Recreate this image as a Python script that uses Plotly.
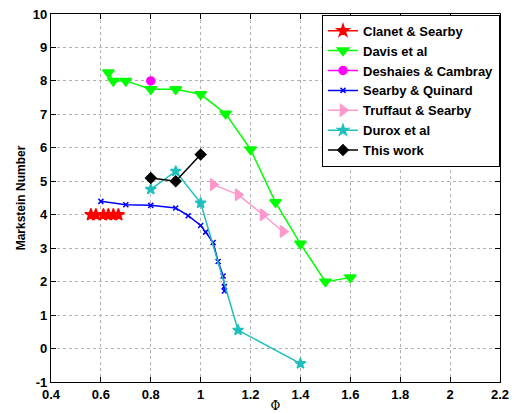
import plotly.graph_objects as go

clanet_x = [0.56, 0.58, 0.61, 0.63, 0.65, 0.67]
clanet_y = [4.0, 4.0, 4.0, 4.0, 4.0, 4.0]

davis_x = [0.63, 0.65, 0.70, 0.80, 0.90, 1.00, 1.10, 1.20, 1.30, 1.40, 1.50, 1.60]
davis_y = [8.25, 8.0, 8.0, 7.75, 7.75, 7.6, 7.02, 5.95, 4.37, 3.13, 2.0, 2.12]

deshaies_x = [0.80]
deshaies_y = [8.0]

searby_x = [0.60, 0.70, 0.80, 0.90, 0.95, 1.00, 1.02, 1.05, 1.07, 1.09, 1.095, 1.095]
searby_y = [4.4, 4.3, 4.28, 4.2, 3.97, 3.68, 3.48, 3.17, 2.6, 2.17, 1.85, 1.72]

truffaut_x = [1.05, 1.15, 1.25, 1.33]
truffaut_y = [4.9, 4.6, 4.0, 3.5]

durox_x = [0.80, 0.90, 1.00, 1.15, 1.40]
durox_y = [4.76, 5.3, 4.35, 0.55, -0.45]

thiswork_x = [0.80, 0.90, 1.00]
thiswork_y = [5.1, 5.0, 5.8]

x_ticks = [0.4, 0.6, 0.8, 1, 1.2, 1.4, 1.6, 1.8, 2, 2.2]
x_tick_labels = ["0.4", "0.6", "0.8", "1", "1.2", "1.4", "1.6", "1.8", "2", "2.2"]
y_ticks = list(range(-1, 11))
y_tick_labels = [str(v) for v in y_ticks]

series = [
    ("Clanet & Searby", clanet_x, clanet_y, "#ff0000", "star", 9),
    ("Davis et al", davis_x, davis_y, "#00ff00", "triangle-down", 10),
    ("Deshaies & Cambray", deshaies_x, deshaies_y, "#ff00ff", "circle", 8),
    ("Searby & Quinard", searby_x, searby_y, "#0000ff", "x-thin", 5),
    ("Truffaut & Searby", truffaut_x, truffaut_y, "#ff99cc", "triangle-right", 10),
    ("Durox et al", durox_x, durox_y, "#1fbfbf", "star", 8),
    ("This work", thiswork_x, thiswork_y, "#000000", "diamond", 8),
]

fig = go.Figure()
for name, xs, ys, col, sym, sz in series:
    fig.add_trace(go.Scatter(
        x=xs, y=ys, name="<b>" + name + "</b>", mode="lines+markers",
        line=dict(color=col, width=1.5),
        marker=dict(color=col, symbol=sym, size=sz,
                    line=dict(color=col, width=1.5)),
    ))

axis_common = dict(
    showline=True, linecolor="black", linewidth=1.2, mirror="ticks",
    ticks="inside", ticklen=5, tickcolor="black",
    showgrid=True, gridcolor="#b0b0b0", griddash="dot", gridwidth=1,
    zeroline=False, automargin=False,
    tickfont=dict(family="Liberation Sans, Arial", size=13, color="black"),
)

fig.update_layout(
    width=519, height=413,
    margin=dict(l=51, r=19, t=14, b=31),
    paper_bgcolor="white", plot_bgcolor="white",
    font=dict(family="Liberation Sans, Arial", color="black"),
    xaxis=dict(range=[0.4, 2.2], tickvals=x_ticks,
               ticktext=["<b>" + t + "</b>" for t in x_tick_labels],
               title=dict(text="Φ", font=dict(family="DejaVu Serif", size=12), standoff=0),
               **axis_common),
    yaxis=dict(range=[-1, 10], tickvals=y_ticks,
               ticktext=["<b>" + t + "</b>" for t in y_tick_labels],
               title=dict(text="<b>Markstein Number</b>",
                          font=dict(family="Liberation Sans, Arial", size=12), standoff=4),
               **axis_common),
    legend=dict(x=1, y=0.998, xanchor="right", yanchor="top",
                bgcolor="white", bordercolor="black", borderwidth=1,
                font=dict(family="Liberation Sans, Arial", size=13),
                tracegroupgap=0, itemwidth=30),
    showlegend=True,
)

fig.write_html("out.html")
